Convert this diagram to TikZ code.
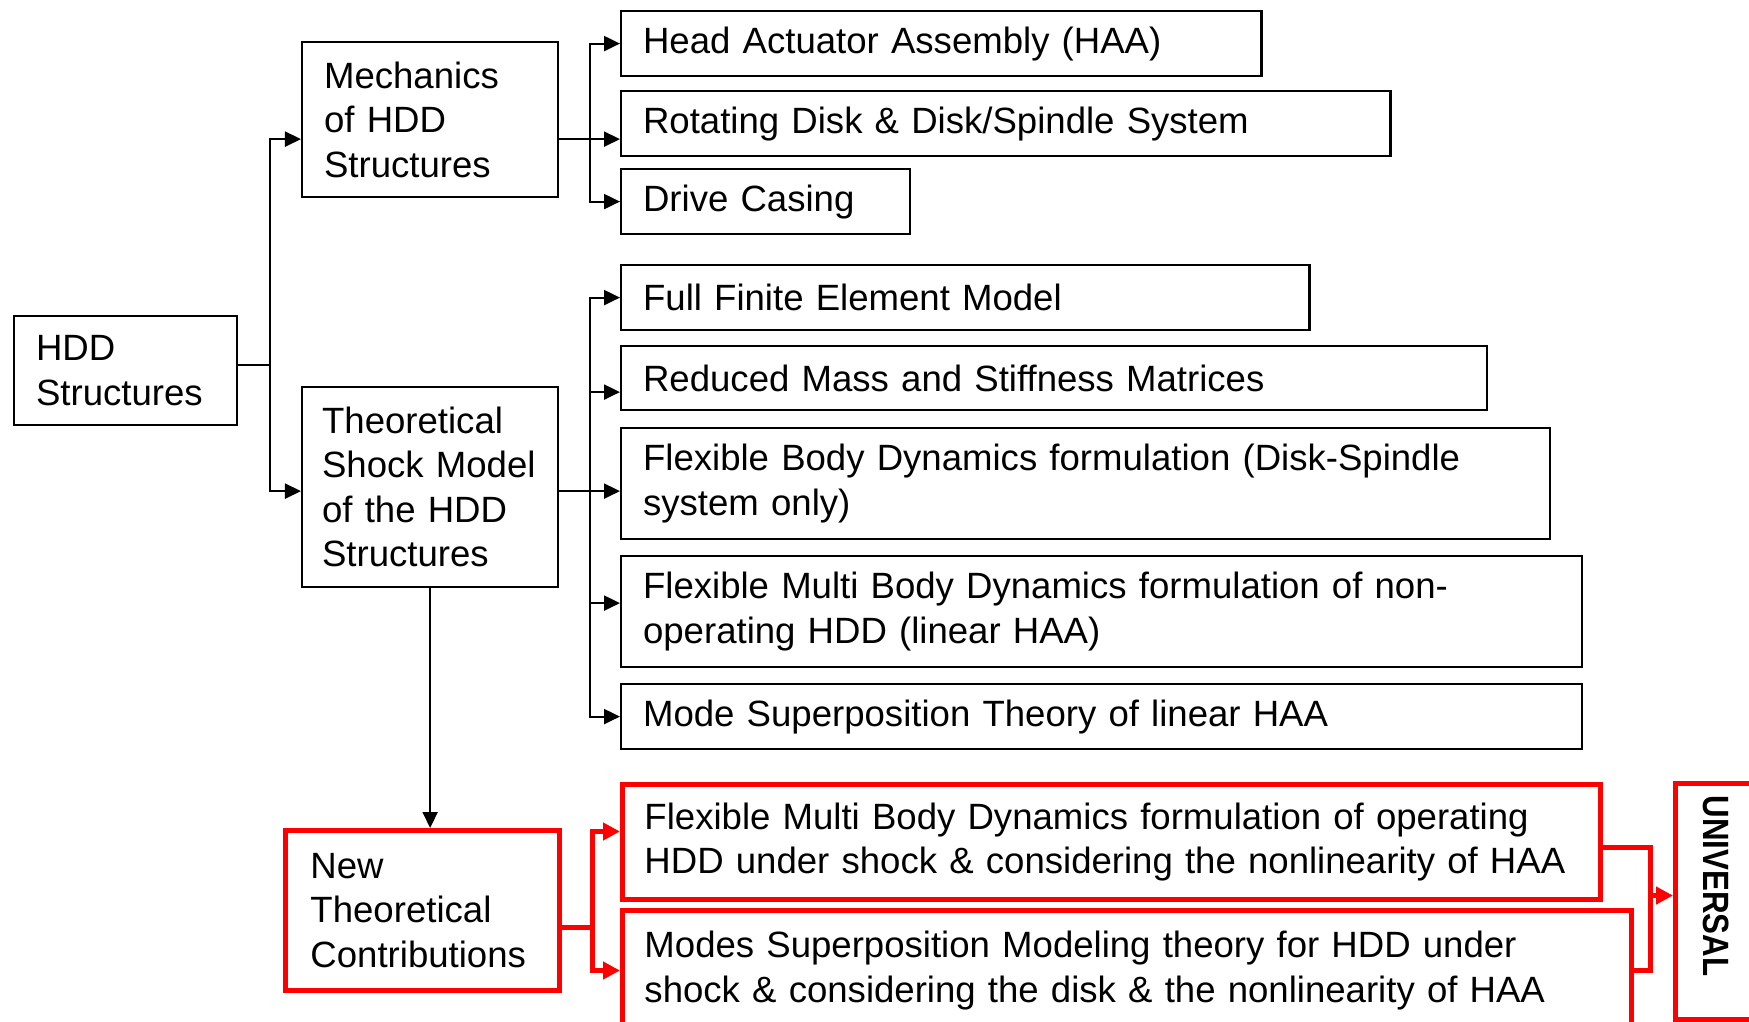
\documentclass[tikz,border=0pt]{standalone}
\usepackage{fontspec}
\setmainfont{Liberation Sans}
\usetikzlibrary{arrows.meta}
\newcommand\hddfont{\fontsize{10.4}{12.65}\selectfont}
\tikzset{
  itembox/.style={draw, line width=0.6pt, anchor=north west, align=left,
    inner xsep=0.22cm, inner ysep=0.05cm, font=\hddfont},
  redbox/.style={itembox, draw=red, line width=1.4pt},
  link/.style={line width=0.6pt},
  arr/.style={link, -{Triangle[length=0.16cm, width=0.15cm]}},
  arrs/.style={link, {Triangle[length=0.16cm, width=0.15cm]}-{Triangle[length=0.16cm, width=0.15cm]}},
  redlink/.style={red, line width=1.4pt},
  redarr/.style={redlink, -{Triangle[length=0.17cm, width=0.17cm]}},
  redarrs/.style={redlink, {Triangle[length=0.17cm, width=0.17cm]}-{Triangle[length=0.17cm, width=0.17cm]}},
}
\begin{document}
\begin{tikzpicture}[x=0.01cm, y=-0.01cm]
\useasboundingbox (0,0) rectangle (1749,1021);
\clip (0,0) rectangle (1749,1021);
% left column
\node[itembox, text width=1.79cm, minimum height=1.09cm] (hdd) at (13,315) {HDD\\Structures};
\node[itembox, text width=2.12cm, minimum height=1.55cm] (mech) at (301,41) {Mechanics\\of HDD\\Structures};
\node[itembox, inner xsep=0.2cm, text width=2.16cm, minimum height=2.00cm] (theo) at (301,386) {Theoretical\\Shock Model\\of the HDD\\Structures};
\node[redbox, inner xsep=0.25cm, text width=2.24cm, minimum height=1.60cm] (newc) at (283,828) {New\\Theoretical\\Contributions};
% right column
\node[itembox, text width=5.96cm, minimum height=0.65cm] (haa) at (620,10) {Head Actuator Assembly (HAA)};
\node[itembox, text width=7.25cm, minimum height=0.65cm] (rot) at (620,90) {Rotating Disk \& Disk/Spindle System};
\node[itembox, text width=2.45cm, minimum height=0.65cm] (drive) at (620,168) {Drive Casing};
\node[itembox, text width=6.44cm, minimum height=0.65cm] (full) at (620,264) {Full Finite Element Model};
\node[itembox, text width=8.21cm, minimum height=0.64cm] (reduced) at (620,345) {Reduced Mass and Stiffness Matrices};
\node[itembox, text width=8.84cm, minimum height=1.11cm] (flexb) at (620,427) {Flexible Body Dynamics formulation (Disk-Spindle\\system only)};
\node[itembox, text width=9.16cm, minimum height=1.11cm] (fmbd) at (620,555) {Flexible Multi Body Dynamics formulation of non-\\operating HDD (linear HAA)};
\node[itembox, text width=9.16cm, minimum height=0.65cm] (modesup) at (620,683) {Mode Superposition Theory of linear HAA};
\node[redbox, text width=9.33cm, minimum height=1.15cm] (rfmbd) at (620,782) {Flexible Multi Body Dynamics formulation of operating\\HDD under shock \& considering the nonlinearity of HAA};
\node[redbox, text width=9.64cm, minimum height=1.20cm] (rmodes) at (620,908) {Modes Superposition Modeling theory for HDD under\\shock \& considering the disk \& the nonlinearity of HAA};
\node[redbox, rotate=-90, anchor=south west, text width=2.12cm, minimum height=0.82cm,
  inner xsep=0.12cm, font=\hddfont\bfseries] (univ) at (1673,781) {\scalebox{0.855}[1]{UNIVERSAL}};
% junctions
\coordinate (hj) at ([xshift=0.32cm, yshift=0.055cm]hdd.east);
\coordinate (mj) at ([xshift=0.31cm, yshift=-0.195cm]mech.east);
\coordinate (tj) at ([xshift=0.31cm, yshift=-0.04cm]theo.east);
\coordinate (rj) at ([xshift=0.30cm, yshift=-0.17cm]newc.east);
\coordinate (uj) at ([xshift=0.48cm, yshift=-0.055cm]rfmbd.east);
\coordinate (ua) at ([yshift=-0.48cm]uj);
% black connectors
\draw[link] ([yshift=0.055cm]hdd.east) -- (hj);
\draw[arrs] ([yshift=-0.195cm]mech.west) -| (hj) |- ([yshift=-0.04cm]theo.west);
\draw[arr] ([yshift=-0.195cm]mech.east) -- ([yshift=-0.195cm]mech.east -| rot.west);
\draw[arrs] (haa.west) -| (mj) |- (drive.west);
\draw[link] ([yshift=-0.04cm]theo.east) -- (tj);
\draw[arrs] (full.west) -| (tj) |- (modesup.west);
\foreach \n/\s in {reduced/-0.14, flexb/-0.075, fmbd/0.085}
  \draw[arr] (tj) |- ([yshift=\s cm]\n.west);
\draw[arr] (theo.south) -- (theo.south |- newc.north);
% red connectors
\draw[redlink] ([yshift=-0.17cm]newc.east) -- (rj);
\draw[redarrs] ([yshift=0.105cm]rfmbd.west) -| (rj) |- (rmodes.west);
\draw[redlink] ([yshift=-0.055cm]rfmbd.east) -| (uj) |- (rmodes.east);
\draw[redarr] (ua) -- (ua -| univ.south);
\end{tikzpicture}
\end{document}
